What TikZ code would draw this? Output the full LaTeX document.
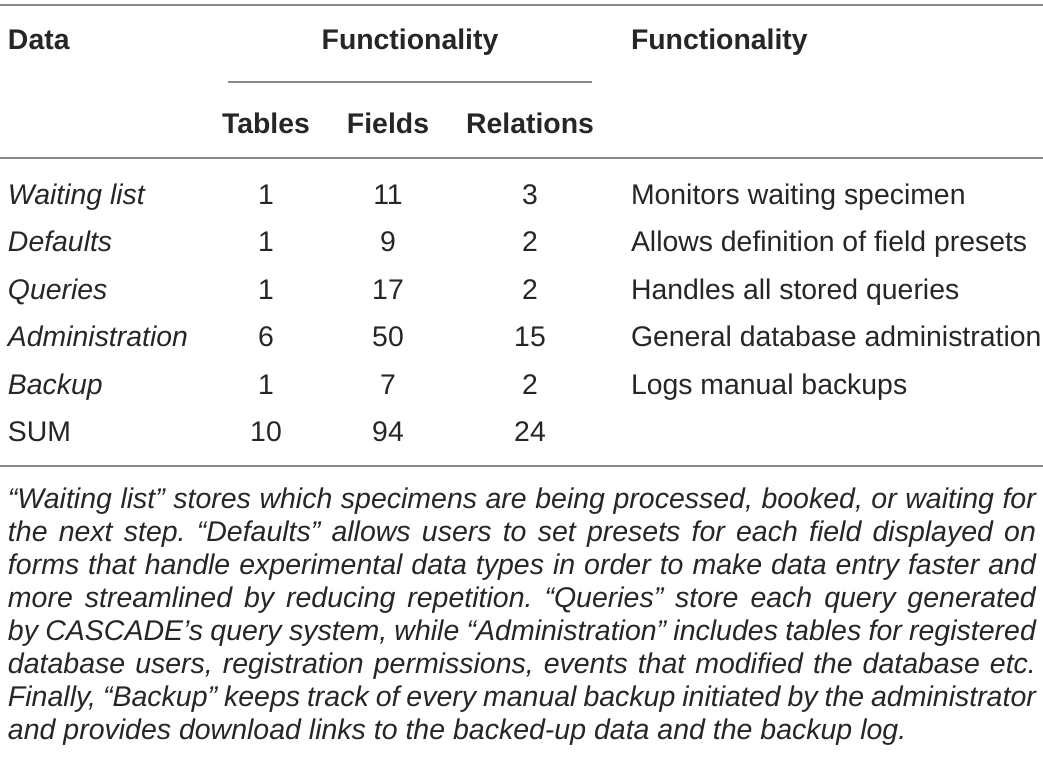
\documentclass[tikz,border=0pt]{standalone}
\usepackage{fontspec}
\setmainfont{Liberation Sans}
\definecolor{txt}{HTML}{262626}
\definecolor{rulec}{HTML}{8A8A8A}
\begin{document}
\frenchspacing
\begin{tikzpicture}[x=1pt,y=-1pt,
  cell/.style={inner sep=0pt,outer sep=0pt,text=txt,font=\fontsize{28.4}{34}\selectfont},
  hd/.style={cell,font=\fontsize{28.4}{34}\selectfont\bfseries},
  num/.style={cell,anchor=base},
  lft/.style={cell,anchor=base west},
  fn/.style={inner sep=0pt,outer sep=0pt,text=txt,anchor=base west,font=\fontsize{28.5}{33}\selectfont\itshape\frenchspacing},
  rl/.style={draw=rulec,line width=1.8pt}]
\useasboundingbox (0,0) rectangle (1043,776);
% rules
\coordinate (r1a) at (0,5);   \coordinate (r1b) at (1043,5);
\coordinate (cma) at (228,82); \coordinate (cmb) at (592,82);
\coordinate (r2a) at (0,158); \coordinate (r2b) at (1043,158);
\coordinate (r3a) at (0,466); \coordinate (r3b) at (1043,466);
\draw[rl] (r1a) -- (r1b);
\draw[rl,line width=1.2pt] (cma) -- (cmb);
\draw[rl] (r2a) -- (r2b);
\draw[rl] (r3a) -- (r3b);
% header
\node[hd,anchor=base west] (hdata) at (8,50) {Data};
\node[hd,anchor=base] (hfun) at (410,50) {Functionality};
\node[hd,anchor=base west] (hfun2) at (631,50) {Functionality};
\node[hd,anchor=base] (htab) at (266,133) {Tables};
\node[hd,anchor=base] (hfld) at (388,133) {Fields};
\node[hd,anchor=base] (hrel) at (530,133) {Relations};
% rows
\node[lft] (d1) at (8,204) {\itshape Waiting list};
\node[num] (t1) at (266,204) {1};
\node[num] (f1) at (388,204) {11};
\node[num] (e1) at (530,204) {3};
\node[lft] (x1) at (631,204) {Monitors waiting specimen};
\node[lft] (d2) at (8,251.5) {\itshape Defaults};
\node[num] (t2) at (266,251.5) {1};
\node[num] (f2) at (388,251.5) {9};
\node[num] (e2) at (530,251.5) {2};
\node[lft] (x2) at (631,251.5) {Allows definition of field presets};
\node[lft] (d3) at (8,299) {\itshape Queries};
\node[num] (t3) at (266,299) {1};
\node[num] (f3) at (388,299) {17};
\node[num] (e3) at (530,299) {2};
\node[lft] (x3) at (631,299) {Handles all stored queries};
\node[lft] (d4) at (8,346.5) {\itshape Administration};
\node[num] (t4) at (266,346.5) {6};
\node[num] (f4) at (388,346.5) {50};
\node[num] (e4) at (530,346.5) {15};
\node[lft] (x4) at (631,346.5) {General database administration};
\node[lft] (d5) at (8,394) {\itshape Backup};
\node[num] (t5) at (266,394) {1};
\node[num] (f5) at (388,394) {7};
\node[num] (e5) at (530,394) {2};
\node[lft] (x5) at (631,394) {Logs manual backups};
\node[lft] (d6) at (8,441.5) {SUM};
\node[num] (t6) at (266,441.5) {10};
\node[num] (f6) at (388,441.5) {94};
\node[num] (e6) at (530,441.5) {24};
% footnote
\node[fn] (fn1) at (8,508) {\makebox[1028pt][s]{“Waiting list” stores which specimens are being processed, booked, or waiting for}};
\node[fn] (fn2) at (8,541) {\makebox[1028pt][s]{the next step. “Defaults” allows users to set presets for each field displayed on}};
\node[fn] (fn3) at (8,574) {\makebox[1028pt][s]{forms that handle experimental data types in order to make data entry faster and}};
\node[fn] (fn4) at (8,607) {\makebox[1028pt][s]{more streamlined by reducing repetition. “Queries” store each query generated}};
\node[fn] (fn5) at (8,640) {\makebox[1028pt][s]{by CASCADE’s query system, while “Administration” includes tables for registered}};
\node[fn] (fn6) at (8,673) {\makebox[1028pt][s]{database users, registration permissions, events that modified the database etc.}};
\node[fn] (fn7) at (8,706) {\makebox[1028pt][s]{Finally, “Backup” keeps track of every manual backup initiated by the administrator}};
\node[fn] (fn8) at (8,739) {and provides download links to the backed-up data and the backup log.};
\end{tikzpicture}
\end{document}
